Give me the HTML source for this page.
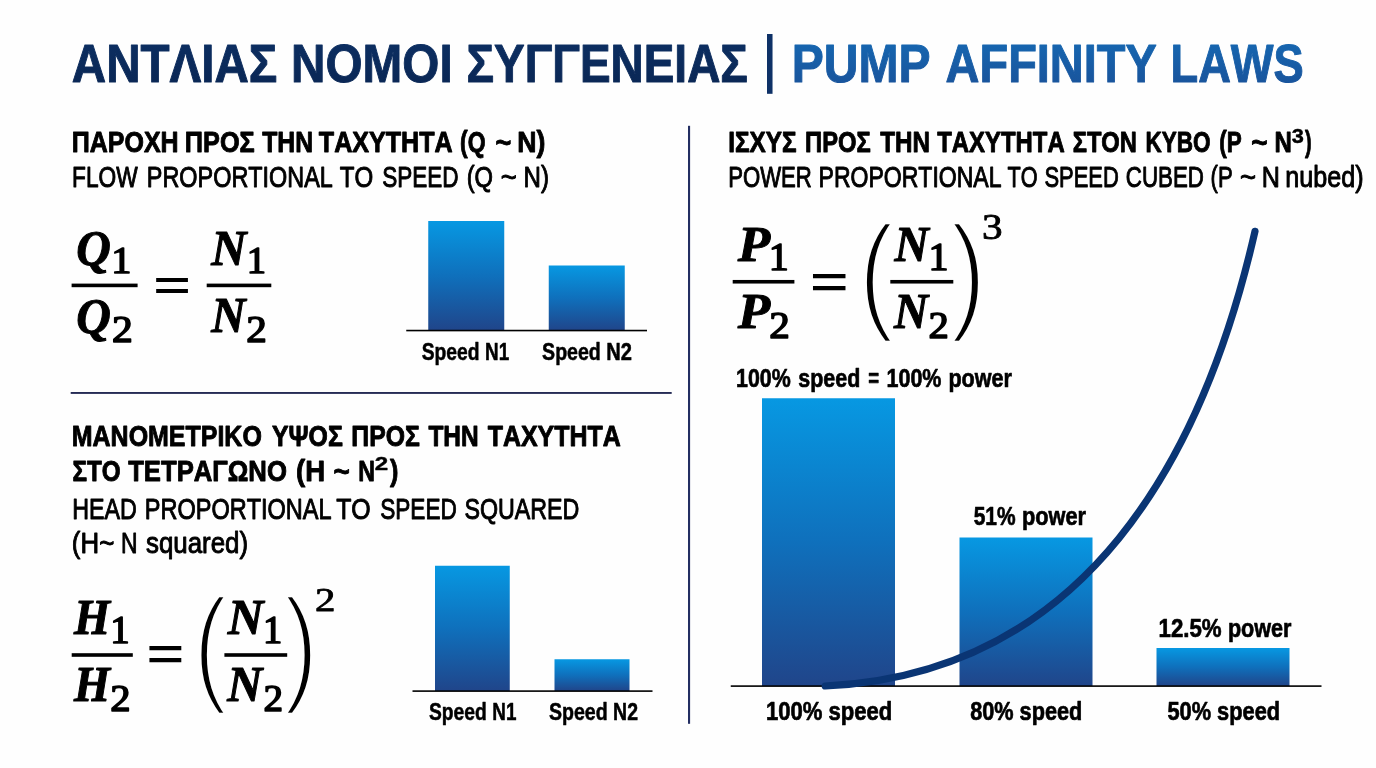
<!DOCTYPE html>
<html lang="el">
<head>
<meta charset="utf-8">
<title>ΑΝΤΛΙΑΣ ΝΟΜΟΙ ΣΥΓΓΕΝΕΙΑΣ | PUMP AFFINITY LAWS</title>
<style>
html,body{margin:0;padding:0;background:#fefefe;}
body{width:1376px;height:768px;overflow:hidden;font-family:'Liberation Sans',sans-serif;}
svg{display:block;}
text{font-kerning:none;white-space:pre;}
</style>
</head>
<body>
<svg width="1376" height="768" viewBox="0 0 1376 768">
<defs>
<linearGradient id="gBar" x1="0" y1="0" x2="0" y2="1">
<stop offset="0" stop-color="#0798e2"/>
<stop offset="0.5" stop-color="#0f70bc"/>
<stop offset="1" stop-color="#20458a"/>
</linearGradient>
<linearGradient id="gGreek" gradientUnits="userSpaceOnUse" x1="0" y1="42" x2="0" y2="84">
<stop offset="0" stop-color="#0c2e61"/>
<stop offset="1" stop-color="#0a2755"/>
</linearGradient>
<linearGradient id="gEng" gradientUnits="userSpaceOnUse" x1="0" y1="42" x2="0" y2="84">
<stop offset="0" stop-color="#1666b0"/>
<stop offset="1" stop-color="#19549c"/>
</linearGradient>
</defs>
<rect x="0" y="0" width="1376" height="768" fill="#fefefe"/>
<text x="71.82" y="81.50" font-size="54.07" font-family="'Liberation Sans', sans-serif" fill="url(#gGreek)" font-weight="bold" stroke="url(#gGreek)" stroke-width="1.0" stroke-linejoin="round" textLength="205.62" lengthAdjust="spacingAndGlyphs">ΑΝΤΛΙΑΣ</text>
<text x="291.06" y="81.50" font-size="54.07" font-family="'Liberation Sans', sans-serif" fill="url(#gGreek)" font-weight="bold" stroke="url(#gGreek)" stroke-width="1.0" stroke-linejoin="round" textLength="161.63" lengthAdjust="spacingAndGlyphs">ΝΟΜΟΙ</text>
<text x="466.48" y="81.50" font-size="54.07" font-family="'Liberation Sans', sans-serif" fill="url(#gGreek)" font-weight="bold" stroke="url(#gGreek)" stroke-width="1.0" stroke-linejoin="round" textLength="281.41" lengthAdjust="spacingAndGlyphs">ΣΥΓΓΕΝΕΙΑΣ</text>
<text transform="translate(763.73 79.94) scale(0.4299 0.6216)" font-size="100" font-family="'Liberation Sans', sans-serif" fill="#0e3167" font-weight="bold">|</text>
<text x="791.78" y="81.50" font-size="54.07" font-family="'Liberation Sans', sans-serif" fill="url(#gEng)" font-weight="bold" stroke="url(#gEng)" stroke-width="1.0" stroke-linejoin="round" textLength="138.86" lengthAdjust="spacingAndGlyphs">PUMP</text>
<text x="945.58" y="81.50" font-size="54.07" font-family="'Liberation Sans', sans-serif" fill="url(#gEng)" font-weight="bold" stroke="url(#gEng)" stroke-width="1.0" stroke-linejoin="round" textLength="211.17" lengthAdjust="spacingAndGlyphs">AFFINITY</text>
<text x="1170.47" y="81.50" font-size="54.07" font-family="'Liberation Sans', sans-serif" fill="url(#gEng)" font-weight="bold" stroke="url(#gEng)" stroke-width="1.0" stroke-linejoin="round" textLength="133.30" lengthAdjust="spacingAndGlyphs">LAWS</text>
<rect x="688.00" y="125.80" width="2.10" height="598.00" fill="#232e62" />
<rect x="70.70" y="392.00" width="601.00" height="1.90" fill="#252b55" />
<text x="71.78" y="152.35" font-size="29.07" font-family="'Liberation Sans', sans-serif" fill="#000" font-weight="bold" stroke="#000" stroke-width="0.9" stroke-linejoin="round" textLength="106.85" lengthAdjust="spacingAndGlyphs">ΠΑΡΟΧΗ</text>
<text x="184.86" y="152.35" font-size="29.07" font-family="'Liberation Sans', sans-serif" fill="#000" font-weight="bold" stroke="#000" stroke-width="0.9" stroke-linejoin="round" textLength="69.85" lengthAdjust="spacingAndGlyphs">ΠΡΟΣ</text>
<text x="262.17" y="152.35" font-size="29.07" font-family="'Liberation Sans', sans-serif" fill="#000" font-weight="bold" stroke="#000" stroke-width="0.9" stroke-linejoin="round" textLength="50.84" lengthAdjust="spacingAndGlyphs">ΤΗΝ</text>
<text x="318.87" y="152.35" font-size="29.07" font-family="'Liberation Sans', sans-serif" fill="#000" font-weight="bold" stroke="#000" stroke-width="0.9" stroke-linejoin="round" textLength="133.74" lengthAdjust="spacingAndGlyphs">ΤΑΧΥΤΗΤΑ</text>
<text x="460.11" y="152.35" font-size="29.07" font-family="'Liberation Sans', sans-serif" fill="#000" font-weight="bold" stroke="#000" stroke-width="0.9" stroke-linejoin="round" textLength="25.51" lengthAdjust="spacingAndGlyphs">(Q</text>
<text x="495.38" y="152.35" font-size="29.07" font-family="'Liberation Sans', sans-serif" fill="#000" font-weight="bold" stroke="#000" stroke-width="0.9" stroke-linejoin="round" textLength="15.79" lengthAdjust="spacingAndGlyphs">~</text>
<text x="517.27" y="152.35" font-size="29.07" font-family="'Liberation Sans', sans-serif" fill="#000" font-weight="bold" stroke="#000" stroke-width="0.9" stroke-linejoin="round" textLength="28.11" lengthAdjust="spacingAndGlyphs">N)</text>
<text x="72.11" y="186.62" font-size="29.00" font-family="'Liberation Sans', sans-serif" fill="#000" stroke="#000" stroke-width="0.95" stroke-linejoin="round" textLength="65.59" lengthAdjust="spacingAndGlyphs">FLOW</text>
<text x="146.86" y="186.62" font-size="29.00" font-family="'Liberation Sans', sans-serif" fill="#000" stroke="#000" stroke-width="0.95" stroke-linejoin="round" textLength="185.95" lengthAdjust="spacingAndGlyphs">PROPORTIONAL</text>
<text x="339.73" y="186.62" font-size="29.00" font-family="'Liberation Sans', sans-serif" fill="#000" stroke="#000" stroke-width="0.95" stroke-linejoin="round" textLength="33.44" lengthAdjust="spacingAndGlyphs">TO</text>
<text x="382.15" y="186.62" font-size="29.00" font-family="'Liberation Sans', sans-serif" fill="#000" stroke="#000" stroke-width="0.95" stroke-linejoin="round" textLength="76.35" lengthAdjust="spacingAndGlyphs">SPEED</text>
<text x="466.70" y="186.62" font-size="29.00" font-family="'Liberation Sans', sans-serif" fill="#000" stroke="#000" stroke-width="0.95" stroke-linejoin="round" textLength="26.36" lengthAdjust="spacingAndGlyphs">(Q</text>
<text x="500.74" y="186.62" font-size="29.00" font-family="'Liberation Sans', sans-serif" fill="#000" stroke="#000" stroke-width="0.95" stroke-linejoin="round" textLength="16.01" lengthAdjust="spacingAndGlyphs">~</text>
<text x="523.60" y="186.62" font-size="29.00" font-family="'Liberation Sans', sans-serif" fill="#000" stroke="#000" stroke-width="0.95" stroke-linejoin="round" textLength="25.42" lengthAdjust="spacingAndGlyphs">N)</text>
<text x="728.33" y="152.35" font-size="29.07" font-family="'Liberation Sans', sans-serif" fill="#000" font-weight="bold" stroke="#000" stroke-width="0.9" stroke-linejoin="round" textLength="68.21" lengthAdjust="spacingAndGlyphs">ΙΣΧΥΣ</text>
<text x="805.11" y="152.35" font-size="29.07" font-family="'Liberation Sans', sans-serif" fill="#000" font-weight="bold" stroke="#000" stroke-width="0.9" stroke-linejoin="round" textLength="65.66" lengthAdjust="spacingAndGlyphs">ΠΡΟΣ</text>
<text x="880.18" y="152.35" font-size="29.07" font-family="'Liberation Sans', sans-serif" fill="#000" font-weight="bold" stroke="#000" stroke-width="0.9" stroke-linejoin="round" textLength="49.75" lengthAdjust="spacingAndGlyphs">ΤΗΝ</text>
<text x="937.18" y="152.35" font-size="29.07" font-family="'Liberation Sans', sans-serif" fill="#000" font-weight="bold" stroke="#000" stroke-width="0.9" stroke-linejoin="round" textLength="127.50" lengthAdjust="spacingAndGlyphs">ΤΑΧΥΤΗΤΑ</text>
<text x="1072.66" y="152.35" font-size="29.07" font-family="'Liberation Sans', sans-serif" fill="#000" font-weight="bold" stroke="#000" stroke-width="0.9" stroke-linejoin="round" textLength="64.24" lengthAdjust="spacingAndGlyphs">ΣΤΟΝ</text>
<text x="1145.44" y="152.35" font-size="29.07" font-family="'Liberation Sans', sans-serif" fill="#000" font-weight="bold" stroke="#000" stroke-width="0.9" stroke-linejoin="round" textLength="65.05" lengthAdjust="spacingAndGlyphs">ΚΥΒΟ</text>
<text x="1219.33" y="152.35" font-size="29.07" font-family="'Liberation Sans', sans-serif" fill="#000" font-weight="bold" stroke="#000" stroke-width="0.9" stroke-linejoin="round" textLength="22.49" lengthAdjust="spacingAndGlyphs">(P</text>
<text x="1251.35" y="152.35" font-size="29.07" font-family="'Liberation Sans', sans-serif" fill="#000" font-weight="bold" stroke="#000" stroke-width="0.9" stroke-linejoin="round" textLength="16.25" lengthAdjust="spacingAndGlyphs">~</text>
<text x="1274.60" y="152.35" font-size="29.07" font-family="'Liberation Sans', sans-serif" fill="#000" font-weight="bold" stroke="#000" stroke-width="0.9" stroke-linejoin="round" textLength="17.32" lengthAdjust="spacingAndGlyphs">N</text>
<text x="1304.93" y="152.35" font-size="29.07" font-family="'Liberation Sans', sans-serif" fill="#000" font-weight="bold" stroke="#000" stroke-width="0.9" stroke-linejoin="round" textLength="6.61" lengthAdjust="spacingAndGlyphs">)</text>
<text x="1291.70" y="142.80" font-size="20.13" font-family="'Liberation Sans', sans-serif" fill="#000" font-weight="bold" stroke="#000" stroke-width="0.4" stroke-linejoin="round" textLength="12.14" lengthAdjust="spacingAndGlyphs">3</text>
<text x="728.16" y="186.62" font-size="29.00" font-family="'Liberation Sans', sans-serif" fill="#000" stroke="#000" stroke-width="0.95" stroke-linejoin="round" textLength="83.64" lengthAdjust="spacingAndGlyphs">POWER</text>
<text x="818.59" y="186.62" font-size="29.00" font-family="'Liberation Sans', sans-serif" fill="#000" stroke="#000" stroke-width="0.95" stroke-linejoin="round" textLength="182.95" lengthAdjust="spacingAndGlyphs">PROPORTIONAL</text>
<text x="1007.49" y="186.62" font-size="29.00" font-family="'Liberation Sans', sans-serif" fill="#000" stroke="#000" stroke-width="0.95" stroke-linejoin="round" textLength="30.07" lengthAdjust="spacingAndGlyphs">TO</text>
<text x="1044.48" y="186.62" font-size="29.00" font-family="'Liberation Sans', sans-serif" fill="#000" stroke="#000" stroke-width="0.95" stroke-linejoin="round" textLength="74.35" lengthAdjust="spacingAndGlyphs">SPEED</text>
<text x="1125.84" y="186.62" font-size="29.00" font-family="'Liberation Sans', sans-serif" fill="#000" stroke="#000" stroke-width="0.95" stroke-linejoin="round" textLength="78.00" lengthAdjust="spacingAndGlyphs">CUBED</text>
<text x="1210.61" y="186.62" font-size="29.00" font-family="'Liberation Sans', sans-serif" fill="#000" stroke="#000" stroke-width="0.95" stroke-linejoin="round" textLength="22.08" lengthAdjust="spacingAndGlyphs">(P</text>
<text x="1239.99" y="186.62" font-size="29.00" font-family="'Liberation Sans', sans-serif" fill="#000" stroke="#000" stroke-width="0.95" stroke-linejoin="round" textLength="16.01" lengthAdjust="spacingAndGlyphs">~</text>
<text x="1261.66" y="186.62" font-size="29.00" font-family="'Liberation Sans', sans-serif" fill="#000" stroke="#000" stroke-width="0.95" stroke-linejoin="round" textLength="18.16" lengthAdjust="spacingAndGlyphs">N</text>
<text x="1285.31" y="186.62" font-size="29.00" font-family="'Liberation Sans', sans-serif" fill="#000" stroke="#000" stroke-width="0.95" stroke-linejoin="round" textLength="78.28" lengthAdjust="spacingAndGlyphs">nubed)</text>
<text x="71.78" y="446.45" font-size="29.07" font-family="'Liberation Sans', sans-serif" fill="#000" font-weight="bold" stroke="#000" stroke-width="0.9" stroke-linejoin="round" textLength="190.07" lengthAdjust="spacingAndGlyphs">ΜΑΝΟΜΕΤΡΙΚΟ</text>
<text x="272.03" y="446.45" font-size="29.07" font-family="'Liberation Sans', sans-serif" fill="#000" font-weight="bold" stroke="#000" stroke-width="0.9" stroke-linejoin="round" textLength="70.77" lengthAdjust="spacingAndGlyphs">ΥΨΟΣ</text>
<text x="351.29" y="446.45" font-size="29.07" font-family="'Liberation Sans', sans-serif" fill="#000" font-weight="bold" stroke="#000" stroke-width="0.9" stroke-linejoin="round" textLength="68.51" lengthAdjust="spacingAndGlyphs">ΠΡΟΣ</text>
<text x="428.43" y="446.45" font-size="29.07" font-family="'Liberation Sans', sans-serif" fill="#000" font-weight="bold" stroke="#000" stroke-width="0.9" stroke-linejoin="round" textLength="50.27" lengthAdjust="spacingAndGlyphs">ΤΗΝ</text>
<text x="487.67" y="446.45" font-size="29.07" font-family="'Liberation Sans', sans-serif" fill="#000" font-weight="bold" stroke="#000" stroke-width="0.9" stroke-linejoin="round" textLength="133.04" lengthAdjust="spacingAndGlyphs">ΤΑΧΥΤΗΤΑ</text>
<text x="72.39" y="481.45" font-size="29.07" font-family="'Liberation Sans', sans-serif" fill="#000" font-weight="bold" stroke="#000" stroke-width="0.9" stroke-linejoin="round" textLength="48.18" lengthAdjust="spacingAndGlyphs">ΣΤΟ</text>
<text x="128.16" y="481.45" font-size="29.07" font-family="'Liberation Sans', sans-serif" fill="#000" font-weight="bold" stroke="#000" stroke-width="0.9" stroke-linejoin="round" textLength="158.72" lengthAdjust="spacingAndGlyphs">ΤΕΤΡΑΓΩΝΟ</text>
<text x="296.08" y="481.45" font-size="29.07" font-family="'Liberation Sans', sans-serif" fill="#000" font-weight="bold" stroke="#000" stroke-width="0.9" stroke-linejoin="round" textLength="29.08" lengthAdjust="spacingAndGlyphs">(H</text>
<text x="333.60" y="481.45" font-size="29.07" font-family="'Liberation Sans', sans-serif" fill="#000" font-weight="bold" stroke="#000" stroke-width="0.9" stroke-linejoin="round" textLength="16.25" lengthAdjust="spacingAndGlyphs">~</text>
<text x="358.15" y="481.45" font-size="29.07" font-family="'Liberation Sans', sans-serif" fill="#000" font-weight="bold" stroke="#000" stroke-width="0.9" stroke-linejoin="round" textLength="16.71" lengthAdjust="spacingAndGlyphs">N</text>
<text x="389.93" y="481.45" font-size="29.07" font-family="'Liberation Sans', sans-serif" fill="#000" font-weight="bold" stroke="#000" stroke-width="0.9" stroke-linejoin="round" textLength="8.38" lengthAdjust="spacingAndGlyphs">)</text>
<text x="374.86" y="470.30" font-size="17.59" font-family="'Liberation Sans', sans-serif" fill="#000" font-weight="bold" stroke="#000" stroke-width="0.4" stroke-linejoin="round" textLength="13.40" lengthAdjust="spacingAndGlyphs">2</text>
<text x="72.32" y="519.42" font-size="29.00" font-family="'Liberation Sans', sans-serif" fill="#000" stroke="#000" stroke-width="0.95" stroke-linejoin="round" textLength="64.57" lengthAdjust="spacingAndGlyphs">HEAD</text>
<text x="144.80" y="519.42" font-size="29.00" font-family="'Liberation Sans', sans-serif" fill="#000" stroke="#000" stroke-width="0.95" stroke-linejoin="round" textLength="186.76" lengthAdjust="spacingAndGlyphs">PROPORTIONAL</text>
<text x="336.17" y="519.42" font-size="29.00" font-family="'Liberation Sans', sans-serif" fill="#000" stroke="#000" stroke-width="0.95" stroke-linejoin="round" textLength="34.55" lengthAdjust="spacingAndGlyphs">TO</text>
<text x="380.20" y="519.42" font-size="29.00" font-family="'Liberation Sans', sans-serif" fill="#000" stroke="#000" stroke-width="0.95" stroke-linejoin="round" textLength="76.66" lengthAdjust="spacingAndGlyphs">SPEED</text>
<text x="464.42" y="519.42" font-size="29.00" font-family="'Liberation Sans', sans-serif" fill="#000" stroke="#000" stroke-width="0.95" stroke-linejoin="round" textLength="114.97" lengthAdjust="spacingAndGlyphs">SQUARED</text>
<text x="71.87" y="553.23" font-size="29.00" font-family="'Liberation Sans', sans-serif" fill="#000" stroke="#000" stroke-width="0.95" stroke-linejoin="round" textLength="27.26" lengthAdjust="spacingAndGlyphs">(H</text>
<text x="99.31" y="553.23" font-size="29.00" font-family="'Liberation Sans', sans-serif" fill="#000" stroke="#000" stroke-width="0.95" stroke-linejoin="round" textLength="15.13" lengthAdjust="spacingAndGlyphs">~</text>
<text x="121.10" y="553.23" font-size="29.00" font-family="'Liberation Sans', sans-serif" fill="#000" stroke="#000" stroke-width="0.95" stroke-linejoin="round" textLength="16.55" lengthAdjust="spacingAndGlyphs">N</text>
<text x="146.00" y="553.23" font-size="29.00" font-family="'Liberation Sans', sans-serif" fill="#000" stroke="#000" stroke-width="0.95" stroke-linejoin="round" textLength="102.12" lengthAdjust="spacingAndGlyphs">squared)</text>
<text transform="translate(76.27 265.40) scale(0.4789 0.5120)" font-size="100" font-family="'Liberation Serif', serif" fill="#000" font-weight="bold" font-style="italic" stroke="#000" stroke-width="2.02" stroke-linejoin="round">Q</text>
<text transform="translate(111.15 273.40) scale(0.4034 0.3863)" font-size="100" font-family="'Liberation Serif', serif" fill="#000" stroke="#000" stroke-width="4.05" stroke-linejoin="round">1</text>
<rect x="71.60" y="283.60" width="66.00" height="3.60" fill="#000" />
<text transform="translate(76.27 333.34) scale(0.4789 0.5156)" font-size="100" font-family="'Liberation Serif', serif" fill="#000" font-weight="bold" font-style="italic" stroke="#000" stroke-width="2.01" stroke-linejoin="round">Q</text>
<text transform="translate(112.07 341.90) scale(0.4166 0.3715)" font-size="100" font-family="'Liberation Serif', serif" fill="#000" stroke="#000" stroke-width="4.06" stroke-linejoin="round">2</text>
<text transform="translate(152.79 304.47) scale(0.6841 0.5777)" font-size="100" font-family="'Liberation Serif', serif" fill="#000" font-weight="bold">=</text>
<text transform="translate(211.35 265.20) scale(0.4874 0.5147)" font-size="100" font-family="'Liberation Serif', serif" fill="#000" font-weight="bold" font-style="italic" stroke="#000" stroke-width="2.0" stroke-linejoin="round">N</text>
<text transform="translate(246.70 273.40) scale(0.3863 0.3863)" font-size="100" font-family="'Liberation Serif', serif" fill="#000" stroke="#000" stroke-width="4.14" stroke-linejoin="round">1</text>
<rect x="206.70" y="283.60" width="64.60" height="3.60" fill="#000" />
<text transform="translate(211.34 332.00) scale(0.4755 0.5009)" font-size="100" font-family="'Liberation Serif', serif" fill="#000" font-weight="bold" font-style="italic" stroke="#000" stroke-width="2.05" stroke-linejoin="round">N</text>
<text transform="translate(246.29 341.90) scale(0.4116 0.3715)" font-size="100" font-family="'Liberation Serif', serif" fill="#000" stroke="#000" stroke-width="4.09" stroke-linejoin="round">2</text>
<text transform="translate(74.04 634.40) scale(0.4639 0.5025)" font-size="100" font-family="'Liberation Serif', serif" fill="#000" font-weight="bold" font-style="italic" stroke="#000" stroke-width="2.07" stroke-linejoin="round">H</text>
<text transform="translate(110.18 642.70) scale(0.3891 0.3984)" font-size="100" font-family="'Liberation Serif', serif" fill="#000" stroke="#000" stroke-width="4.06" stroke-linejoin="round">1</text>
<rect x="71.70" y="653.20" width="61.10" height="3.60" fill="#000" />
<text transform="translate(74.04 701.20) scale(0.4639 0.5009)" font-size="100" font-family="'Liberation Serif', serif" fill="#000" font-weight="bold" font-style="italic" stroke="#000" stroke-width="2.07" stroke-linejoin="round">H</text>
<text transform="translate(110.21 710.50) scale(0.4066 0.3761)" font-size="100" font-family="'Liberation Serif', serif" fill="#000" stroke="#000" stroke-width="4.09" stroke-linejoin="round">2</text>
<text transform="translate(146.08 674.28) scale(0.6863 0.6037)" font-size="100" font-family="'Liberation Serif', serif" fill="#000" font-weight="bold">=</text>
<text transform="translate(193.00 688.04) scale(1.0485 1.2843)" font-size="100" font-family="'Liberation Sans', sans-serif" fill="#000" stroke="#fefefe" stroke-width="3.62">(</text>
<text transform="translate(227.76 634.40) scale(0.4953 0.5025)" font-size="100" font-family="'Liberation Serif', serif" fill="#000" font-weight="bold" font-style="italic" stroke="#000" stroke-width="2.0" stroke-linejoin="round">N</text>
<text transform="translate(262.90 642.70) scale(0.3863 0.3984)" font-size="100" font-family="'Liberation Serif', serif" fill="#000" stroke="#000" stroke-width="4.08" stroke-linejoin="round">1</text>
<rect x="224.40" y="653.20" width="62.80" height="3.60" fill="#000" />
<text transform="translate(227.35 701.20) scale(0.4861 0.5009)" font-size="100" font-family="'Liberation Serif', serif" fill="#000" font-weight="bold" font-style="italic" stroke="#000" stroke-width="2.03" stroke-linejoin="round">N</text>
<text transform="translate(263.48 710.50) scale(0.3916 0.3761)" font-size="100" font-family="'Liberation Serif', serif" fill="#000" stroke="#000" stroke-width="4.17" stroke-linejoin="round">2</text>
<text transform="translate(283.28 688.02) scale(1.0636 1.2836)" font-size="100" font-family="'Liberation Sans', sans-serif" fill="#000" stroke="#fefefe" stroke-width="3.57">)</text>
<text transform="translate(314.95 611.05) scale(0.4091 0.3398)" font-size="100" font-family="'Liberation Serif', serif" fill="#000" stroke="#000" stroke-width="2.4" stroke-linejoin="round">2</text>
<text transform="translate(737.63 261.20) scale(0.5310 0.5009)" font-size="100" font-family="'Liberation Serif', serif" fill="#000" font-weight="bold" font-style="italic" stroke="#000" stroke-width="1.94" stroke-linejoin="round">P</text>
<text transform="translate(768.78 269.60) scale(0.4005 0.3984)" font-size="100" font-family="'Liberation Serif', serif" fill="#000" stroke="#000" stroke-width="4.01" stroke-linejoin="round">1</text>
<rect x="732.70" y="279.95" width="61.70" height="3.60" fill="#000" />
<text transform="translate(737.63 328.30) scale(0.5310 0.5009)" font-size="100" font-family="'Liberation Serif', serif" fill="#000" font-weight="bold" font-style="italic" stroke="#000" stroke-width="1.94" stroke-linejoin="round">P</text>
<text transform="translate(769.19 337.60) scale(0.4116 0.3776)" font-size="100" font-family="'Liberation Serif', serif" fill="#000" stroke="#000" stroke-width="4.05" stroke-linejoin="round">2</text>
<text transform="translate(809.42 301.70) scale(0.6992 0.6148)" font-size="100" font-family="'Liberation Serif', serif" fill="#000" font-weight="bold">=</text>
<text transform="translate(858.14 315.67) scale(1.0900 1.2935)" font-size="100" font-family="'Liberation Sans', sans-serif" fill="#000" stroke="#fefefe" stroke-width="3.49">(</text>
<text transform="translate(894.54 261.20) scale(0.4742 0.5009)" font-size="100" font-family="'Liberation Serif', serif" fill="#000" font-weight="bold" font-style="italic" stroke="#000" stroke-width="2.05" stroke-linejoin="round">N</text>
<text transform="translate(928.38 269.60) scale(0.4005 0.3984)" font-size="100" font-family="'Liberation Serif', serif" fill="#000" stroke="#000" stroke-width="4.01" stroke-linejoin="round">1</text>
<rect x="890.30" y="279.95" width="63.00" height="3.60" fill="#000" />
<text transform="translate(893.94 328.30) scale(0.4729 0.5009)" font-size="100" font-family="'Liberation Serif', serif" fill="#000" font-weight="bold" font-style="italic" stroke="#000" stroke-width="2.05" stroke-linejoin="round">N</text>
<text transform="translate(928.61 337.60) scale(0.4066 0.3776)" font-size="100" font-family="'Liberation Serif', serif" fill="#000" stroke="#000" stroke-width="4.08" stroke-linejoin="round">2</text>
<text transform="translate(949.85 315.65) scale(1.1089 1.2927)" font-size="100" font-family="'Liberation Sans', sans-serif" fill="#000" stroke="#fefefe" stroke-width="3.43">)</text>
<text transform="translate(981.88 239.11) scale(0.4115 0.3498)" font-size="100" font-family="'Liberation Serif', serif" fill="#000" stroke="#000" stroke-width="2.36" stroke-linejoin="round">3</text>
<rect x="428.25" y="221.00" width="76.00" height="109.50" fill="url(#gBar)" />
<rect x="548.75" y="265.50" width="76.00" height="65.00" fill="url(#gBar)" />
<rect x="406.25" y="329.75" width="240.75" height="1.60" fill="#000" />
<text x="421.72" y="359.73" font-size="24.78" font-family="'Liberation Sans', sans-serif" fill="#000" font-weight="bold" stroke="#000" stroke-width="0.55" stroke-linejoin="round" textLength="57.77" lengthAdjust="spacingAndGlyphs">Speed</text>
<text x="485.11" y="359.73" font-size="24.78" font-family="'Liberation Sans', sans-serif" fill="#000" font-weight="bold" stroke="#000" stroke-width="0.55" stroke-linejoin="round" textLength="24.14" lengthAdjust="spacingAndGlyphs">N1</text>
<text x="542.11" y="359.73" font-size="24.78" font-family="'Liberation Sans', sans-serif" fill="#000" font-weight="bold" stroke="#000" stroke-width="0.55" stroke-linejoin="round" textLength="58.70" lengthAdjust="spacingAndGlyphs">Speed</text>
<text x="606.23" y="359.73" font-size="24.78" font-family="'Liberation Sans', sans-serif" fill="#000" font-weight="bold" stroke="#000" stroke-width="0.55" stroke-linejoin="round" textLength="25.70" lengthAdjust="spacingAndGlyphs">N2</text>
<rect x="435.00" y="565.75" width="74.75" height="125.25" fill="url(#gBar)" />
<rect x="554.50" y="659.25" width="75.00" height="31.75" fill="url(#gBar)" />
<rect x="412.50" y="690.30" width="240.00" height="1.60" fill="#000" />
<text x="428.97" y="719.73" font-size="24.78" font-family="'Liberation Sans', sans-serif" fill="#000" font-weight="bold" stroke="#000" stroke-width="0.55" stroke-linejoin="round" textLength="57.77" lengthAdjust="spacingAndGlyphs">Speed</text>
<text x="492.36" y="719.73" font-size="24.78" font-family="'Liberation Sans', sans-serif" fill="#000" font-weight="bold" stroke="#000" stroke-width="0.55" stroke-linejoin="round" textLength="24.14" lengthAdjust="spacingAndGlyphs">N1</text>
<text x="548.96" y="719.73" font-size="24.78" font-family="'Liberation Sans', sans-serif" fill="#000" font-weight="bold" stroke="#000" stroke-width="0.55" stroke-linejoin="round" textLength="58.70" lengthAdjust="spacingAndGlyphs">Speed</text>
<text x="613.12" y="719.73" font-size="24.78" font-family="'Liberation Sans', sans-serif" fill="#000" font-weight="bold" stroke="#000" stroke-width="0.55" stroke-linejoin="round" textLength="24.88" lengthAdjust="spacingAndGlyphs">N2</text>
<rect x="762.00" y="398.25" width="133.00" height="287.75" fill="url(#gBar)" />
<rect x="959.50" y="537.50" width="133.00" height="148.50" fill="url(#gBar)" />
<rect x="1156.50" y="648.00" width="133.00" height="38.00" fill="url(#gBar)" />
<rect x="730.75" y="685.30" width="590.75" height="1.60" fill="#000" />
<path d="M825.2 686 C1086.9 673.8 1203.7 455.5 1255 231.3" fill="none" stroke="#0a3574" stroke-width="7.2" stroke-linecap="round"/>
<text x="736.00" y="386.65" font-size="26.60" font-family="'Liberation Sans', sans-serif" fill="#000" font-weight="bold" stroke="#000" stroke-width="0.7" stroke-linejoin="round" textLength="54.71" lengthAdjust="spacingAndGlyphs">100%</text>
<text x="798.35" y="386.65" font-size="26.60" font-family="'Liberation Sans', sans-serif" fill="#000" font-weight="bold" stroke="#000" stroke-width="0.7" stroke-linejoin="round" textLength="61.97" lengthAdjust="spacingAndGlyphs">speed</text>
<text x="868.33" y="386.65" font-size="26.60" font-family="'Liberation Sans', sans-serif" fill="#000" font-weight="bold" stroke="#000" stroke-width="0.7" stroke-linejoin="round" textLength="10.83" lengthAdjust="spacingAndGlyphs">=</text>
<text x="886.50" y="386.65" font-size="26.60" font-family="'Liberation Sans', sans-serif" fill="#000" font-weight="bold" stroke="#000" stroke-width="0.7" stroke-linejoin="round" textLength="54.97" lengthAdjust="spacingAndGlyphs">100%</text>
<text x="948.43" y="386.65" font-size="26.60" font-family="'Liberation Sans', sans-serif" fill="#000" font-weight="bold" stroke="#000" stroke-width="0.7" stroke-linejoin="round" textLength="63.55" lengthAdjust="spacingAndGlyphs">power</text>
<text x="973.71" y="524.85" font-size="26.60" font-family="'Liberation Sans', sans-serif" fill="#000" font-weight="bold" stroke="#000" stroke-width="0.7" stroke-linejoin="round" textLength="41.90" lengthAdjust="spacingAndGlyphs">51%</text>
<text x="1021.92" y="524.85" font-size="26.60" font-family="'Liberation Sans', sans-serif" fill="#000" font-weight="bold" stroke="#000" stroke-width="0.7" stroke-linejoin="round" textLength="64.06" lengthAdjust="spacingAndGlyphs">power</text>
<text x="1158.55" y="636.75" font-size="26.60" font-family="'Liberation Sans', sans-serif" fill="#000" font-weight="bold" stroke="#000" stroke-width="0.7" stroke-linejoin="round" textLength="63.09" lengthAdjust="spacingAndGlyphs">12.5%</text>
<text x="1227.93" y="636.75" font-size="26.60" font-family="'Liberation Sans', sans-serif" fill="#000" font-weight="bold" stroke="#000" stroke-width="0.7" stroke-linejoin="round" textLength="63.55" lengthAdjust="spacingAndGlyphs">power</text>
<text x="765.96" y="720.25" font-size="26.60" font-family="'Liberation Sans', sans-serif" fill="#000" font-weight="bold" stroke="#000" stroke-width="0.7" stroke-linejoin="round" textLength="126.40" lengthAdjust="spacingAndGlyphs">100% speed</text>
<text x="970.16" y="720.25" font-size="26.60" font-family="'Liberation Sans', sans-serif" fill="#000" font-weight="bold" stroke="#000" stroke-width="0.7" stroke-linejoin="round" textLength="112.17" lengthAdjust="spacingAndGlyphs">80% speed</text>
<text x="1167.43" y="720.25" font-size="26.60" font-family="'Liberation Sans', sans-serif" fill="#000" font-weight="bold" stroke="#000" stroke-width="0.7" stroke-linejoin="round" textLength="112.66" lengthAdjust="spacingAndGlyphs">50% speed</text>
</svg>
</body>
</html>
